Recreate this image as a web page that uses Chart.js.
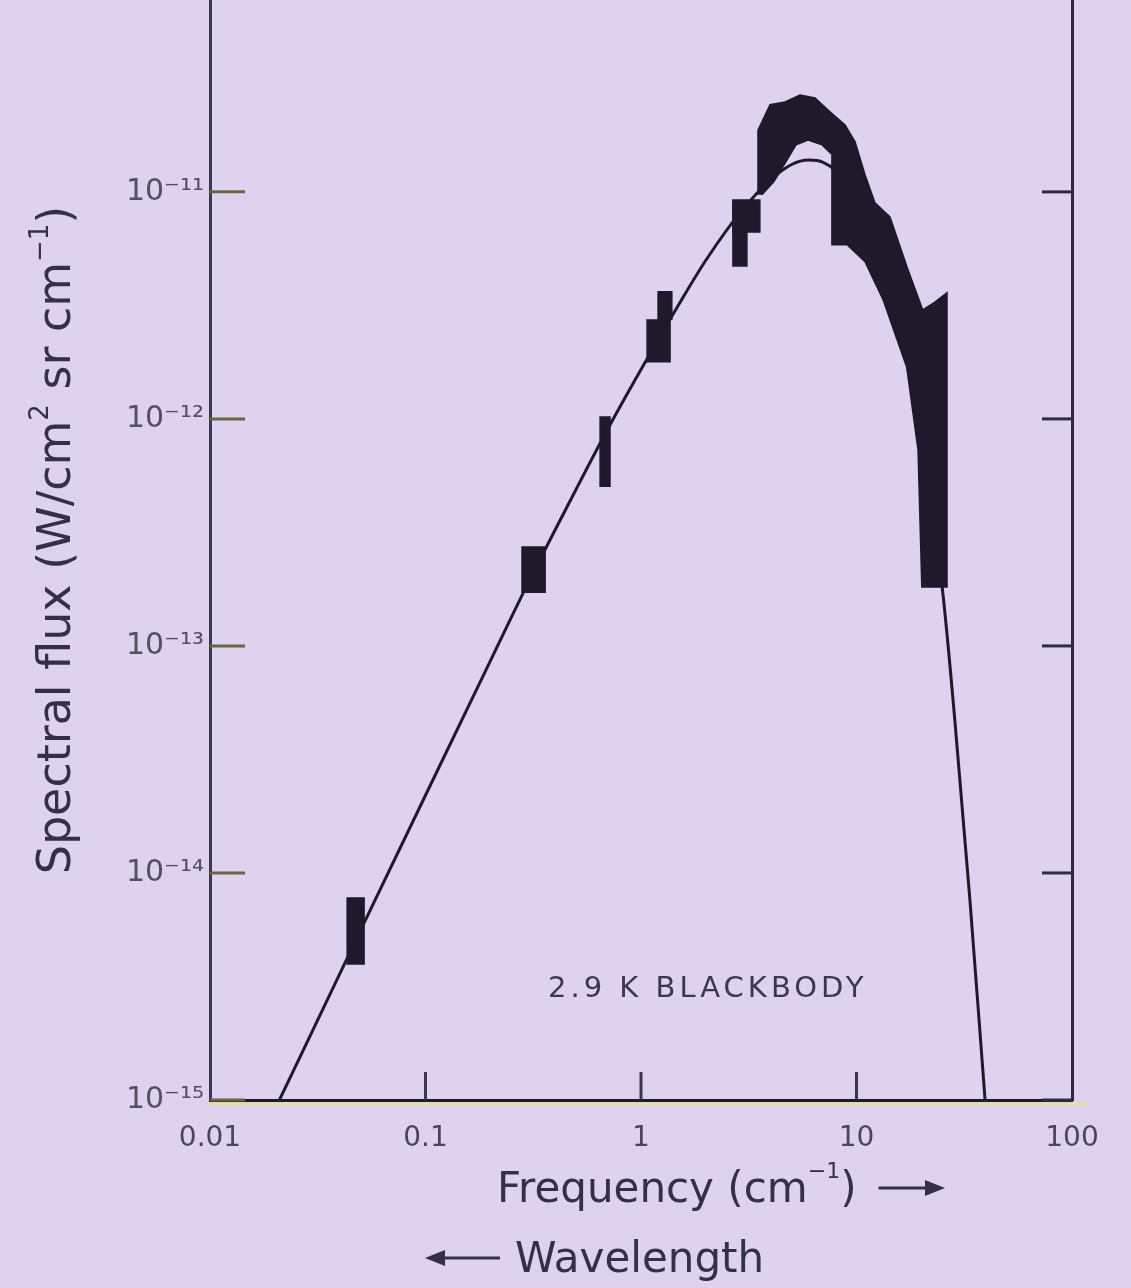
<!DOCTYPE html>
<html>
<head>
<meta charset="utf-8">
<title>2.9 K blackbody spectrum</title>
<script src="https://cdn.jsdelivr.net/npm/chart.js@4.4.1/dist/chart.umd.min.js"></script>
<style>
  html, body { margin: 0; padding: 0; background: #ddd3ee; }
  #wrap { width: 1131px; height: 1288px; position: relative; }
</style>
</head>
<body>
<div id="wrap"><canvas id="spectrum" width="1131" height="1288"></canvas></div>
<script>
const FONT = "'DejaVu Sans', 'Liberation Sans', sans-serif";
const INK = '#1e1a2c';
const TEXT = '#34304a';

// Axis ticks (decades only)
const X_TICKS = [0.01, 0.1, 1, 10, 100];
const X_TICK_LABELS = ['0.01', '0.1', '1', '10', '100'];
const Y_TICKS = [1e-15, 1e-14, 1e-13, 1e-12, 1e-11];
const Y_TICK_LABELS = ['10⁻¹⁵', '10⁻¹⁴', '10⁻¹³', '10⁻¹²', '10⁻¹¹'];
const Y_MAX = 7.0e-11;

// 2.9 K blackbody curve: frequency (cm^-1) and spectral flux
const BB_FREQ = [0.021, 0.05, 0.1, 0.2, 0.3, 0.5, 0.7, 1, 1.5, 2, 3, 4, 5, 6, 7, 8, 10, 12.5, 15, 20, 25, 28.6, 33.6, 39.5];
const BB_FLUX = [1.0e-15, 5.6e-15, 2.2e-14, 8.6e-14, 1.9e-13, 4.9e-13, 9.0e-13, 1.65e-12, 3.2e-12, 5.0e-12, 8.5e-12,
                 1.13e-11, 1.32e-11, 1.38e-11, 1.35e-11, 1.24e-11, 9.2e-12, 5.5e-12, 3.4e-12, 7.3e-13, 1.8e-13, 4.7e-14, 7.6e-15, 1.0e-15];

// Single measurements: frequency range and flux range of each error box
const BOX_FREQ_LO = [0.0433, 0.2805, 0.646, 1.067, 1.20, 2.67, 2.67];
const BOX_FREQ_HI = [0.0519, 0.359, 0.718, 1.364, 1.39, 3.10, 3.56];
const BOX_FLUX_LO = [3.94e-15, 1.71e-13, 5.01e-13, 1.77e-12, 2.73e-12, 4.68e-12, 6.6e-12];
const BOX_FLUX_HI = [7.76e-15, 2.73e-13, 1.02e-12, 2.73e-12, 3.63e-12, 8.95e-12, 9.2e-12];

// Broadband measurements around the peak: outer edge (left to right) ...
const BAND_OUTER_FREQ = [3.49, 3.49, 3.97, 4.66, 5.47, 6.42, 7.53, 8.85, 9.85, 10.95, 12.18, 14.3, 17.14, 20.3, 23.1, 26.3, 26.3];
const BAND_OUTER_FLUX = [9.7e-12, 1.87e-11, 2.42e-11, 2.49e-11, 2.67e-11, 2.59e-11, 2.25e-11, 1.97e-11, 1.66e-11, 1.19e-11,
                         8.95e-12, 7.76e-12, 4.68e-12, 3.02e-12, 3.27e-12, 3.59e-12, 1.82e-13];
// ... and inner edge (right to left)
const BAND_INNER_FREQ = [20.1, 19.3, 17.1, 13.3, 10.95, 9.04, 7.69, 7.69, 6.92, 5.96, 5.24, 4.71, 4.14, 3.64];
const BAND_INNER_FLUX = [1.82e-13, 7.3e-13, 1.69e-12, 3.34e-12, 4.92e-12, 5.85e-12, 5.85e-12, 1.46e-11,
                         1.61e-11, 1.69e-11, 1.61e-11, 1.36e-11, 1.11e-11, 9.7e-12];

const zip = (xs, ys) => xs.map((x, i) => ({ x, y: ys[i] }));

const shapeStyle = {
  showLine: true,
  fill: 'shape',
  backgroundColor: INK,
  borderColor: INK,
  borderWidth: 1.5,
  pointRadius: 0,
  tension: 0,
};

const datasets = [
  {
    data: zip(BB_FREQ, BB_FLUX),
    showLine: true,
    borderColor: INK,
    borderWidth: 3,
    pointRadius: 0,
    cubicInterpolationMode: 'monotone',
    fill: false,
  },
  {
    ...shapeStyle,
    data: zip(BAND_OUTER_FREQ, BAND_OUTER_FLUX).concat(zip(BAND_INNER_FREQ, BAND_INNER_FLUX)),
  },
];

BOX_FREQ_LO.forEach((lo, i) => {
  const hi = BOX_FREQ_HI[i];
  datasets.push({
    ...shapeStyle,
    data: [
      { x: lo, y: BOX_FLUX_LO[i] },
      { x: lo, y: BOX_FLUX_HI[i] },
      { x: hi, y: BOX_FLUX_HI[i] },
      { x: hi, y: BOX_FLUX_LO[i] },
    ],
  });
});

// tick marks drawn on the inside of the frame
const innerTicks = {
  id: 'innerTicks',
  afterDatasetsDraw(chart) {
    const { ctx, chartArea: a, scales: { x, y } } = chart;
    ctx.save();
    ctx.lineWidth = 3;
    Y_TICKS.forEach(v => {
      const py = y.getPixelForValue(v);
      ctx.strokeStyle = '#6a6442';
      ctx.beginPath(); ctx.moveTo(a.left, py); ctx.lineTo(a.left + 35, py); ctx.stroke();
      ctx.strokeStyle = '#302a48';
      ctx.beginPath(); ctx.moveTo(a.right - 30, py); ctx.lineTo(a.right, py); ctx.stroke();
    });
    ctx.strokeStyle = '#3a3550';
    X_TICKS.slice(1, -1).forEach(v => {
      const px = x.getPixelForValue(v);
      ctx.beginPath(); ctx.moveTo(px, a.bottom); ctx.lineTo(px, a.bottom - 28); ctx.stroke();
    });
    // yellowish glow under the baseline
    ctx.strokeStyle = 'rgba(226, 232, 120, 0.55)';
    ctx.lineWidth = 4;
    ctx.beginPath(); ctx.moveTo(a.left, a.bottom + 4); ctx.lineTo(a.right + 15, a.bottom + 4); ctx.stroke();
    ctx.restore();
  },
};

// draws text runs with raised superscripts, starting at (0, 0) of the current transform
function drawRuns(ctx, runs, size, supSize, supRise) {
  let x = 0;
  runs.forEach(([txt, sup]) => {
    ctx.font = `${sup ? supSize : size}px ${FONT}`;
    ctx.fillText(txt, x, sup ? -supRise : 0);
    x += ctx.measureText(txt).width;
  });
  return x;
}

function runsWidth(ctx, runs, size, supSize) {
  return runs.reduce((w, [txt, sup]) => {
    ctx.font = `${sup ? supSize : size}px ${FONT}`;
    return w + ctx.measureText(txt).width;
  }, 0);
}

function arrow(ctx, x0, x1, y) {
  const dir = Math.sign(x1 - x0);
  ctx.beginPath(); ctx.moveTo(x0, y); ctx.lineTo(x1 - dir * 10, y); ctx.stroke();
  ctx.beginPath();
  ctx.moveTo(x1, y);
  ctx.lineTo(x1 - dir * 20, y - 8);
  ctx.lineTo(x1 - dir * 20, y + 8);
  ctx.closePath();
  ctx.fill();
}

const labels = {
  id: 'labels',
  afterDraw(chart) {
    const { ctx } = chart;
    ctx.save();
    ctx.fillStyle = TEXT;
    ctx.strokeStyle = TEXT;
    ctx.textBaseline = 'alphabetic';
    ctx.textAlign = 'left';

    // y axis title
    const yRuns = [['Spectral flux (W/cm'], ['2', true], [' sr cm'], ['−1', true], [')']];
    const yw = runsWidth(ctx, yRuns, 46, 26);
    ctx.save();
    ctx.translate(70, 540 + yw / 2);
    ctx.rotate(-Math.PI / 2);
    drawRuns(ctx, yRuns, 46, 26, 22);
    ctx.restore();

    // x axis title
    ctx.save();
    ctx.translate(497, 1202);
    const xw = drawRuns(ctx, [['Frequency (cm'], ['−1', true], [')']], 42, 22, 24);
    ctx.restore();
    ctx.lineWidth = 3;
    arrow(ctx, 497 + xw + 22, 945, 1188);

    // wavelength direction
    ctx.font = `42px ${FONT}`;
    ctx.fillText('Wavelength', 515, 1272);
    arrow(ctx, 500, 425, 1258);

    // curve annotation
    ctx.font = `29px ${FONT}`;
    ctx.letterSpacing = '4px';
    ctx.fillStyle = '#3c3852';
    ctx.fillText('2.9 K BLACKBODY', 548, 997);
    ctx.restore();
  },
};

// vertical axes run to the top edge: drop the half-label padding Chart.js reserves
const fitVertical = width => s => {
  s.width = width;
  s.paddingTop = 0;
  s.paddingBottom = 0;
};

new Chart(document.getElementById('spectrum'), {
  type: 'scatter',
  data: { datasets },
  options: {
    responsive: false,
    animation: false,
    layout: { padding: 0 },
    plugins: { legend: { display: false }, tooltip: { enabled: false } },
    scales: {
      x: {
        type: 'logarithmic',
        min: 0.01,
        max: 100,
        bounds: 'data',
        afterBuildTicks: s => { s.ticks = X_TICKS.map(value => ({ value })); },
        afterFit: s => { s.height = 188; },
        grid: { display: false, drawTicks: false },
        border: { display: true, color: INK, width: 3 },
        ticks: {
          padding: 22,
          color: '#4a4658',
          font: { family: FONT, size: 28 },
          maxRotation: 0,
          callback: (v, i) => X_TICK_LABELS[i],
        },
      },
      y: {
        type: 'logarithmic',
        min: 1e-15,
        max: Y_MAX,
        bounds: 'data',
        afterBuildTicks: s => { s.ticks = Y_TICKS.map(value => ({ value })); },
        afterFit: fitVertical(210),
        grid: { display: false, drawTicks: false },
        border: { display: true, color: '#3c3850', width: 3 },
        ticks: {
          padding: 6,
          color: '#55505f',
          font: { family: FONT, size: 30 },
          callback: (v, i) => Y_TICK_LABELS[i],
        },
      },
      y2: {
        type: 'logarithmic',
        position: 'right',
        min: 1e-15,
        max: Y_MAX,
        bounds: 'data',
        afterFit: fitVertical(59),
        grid: { display: false, drawTicks: false },
        border: { display: true, color: '#2c2640', width: 3 },
        ticks: { display: false },
      },
    },
  },
  plugins: [innerTicks, labels],
});
</script>
</body>
</html>
